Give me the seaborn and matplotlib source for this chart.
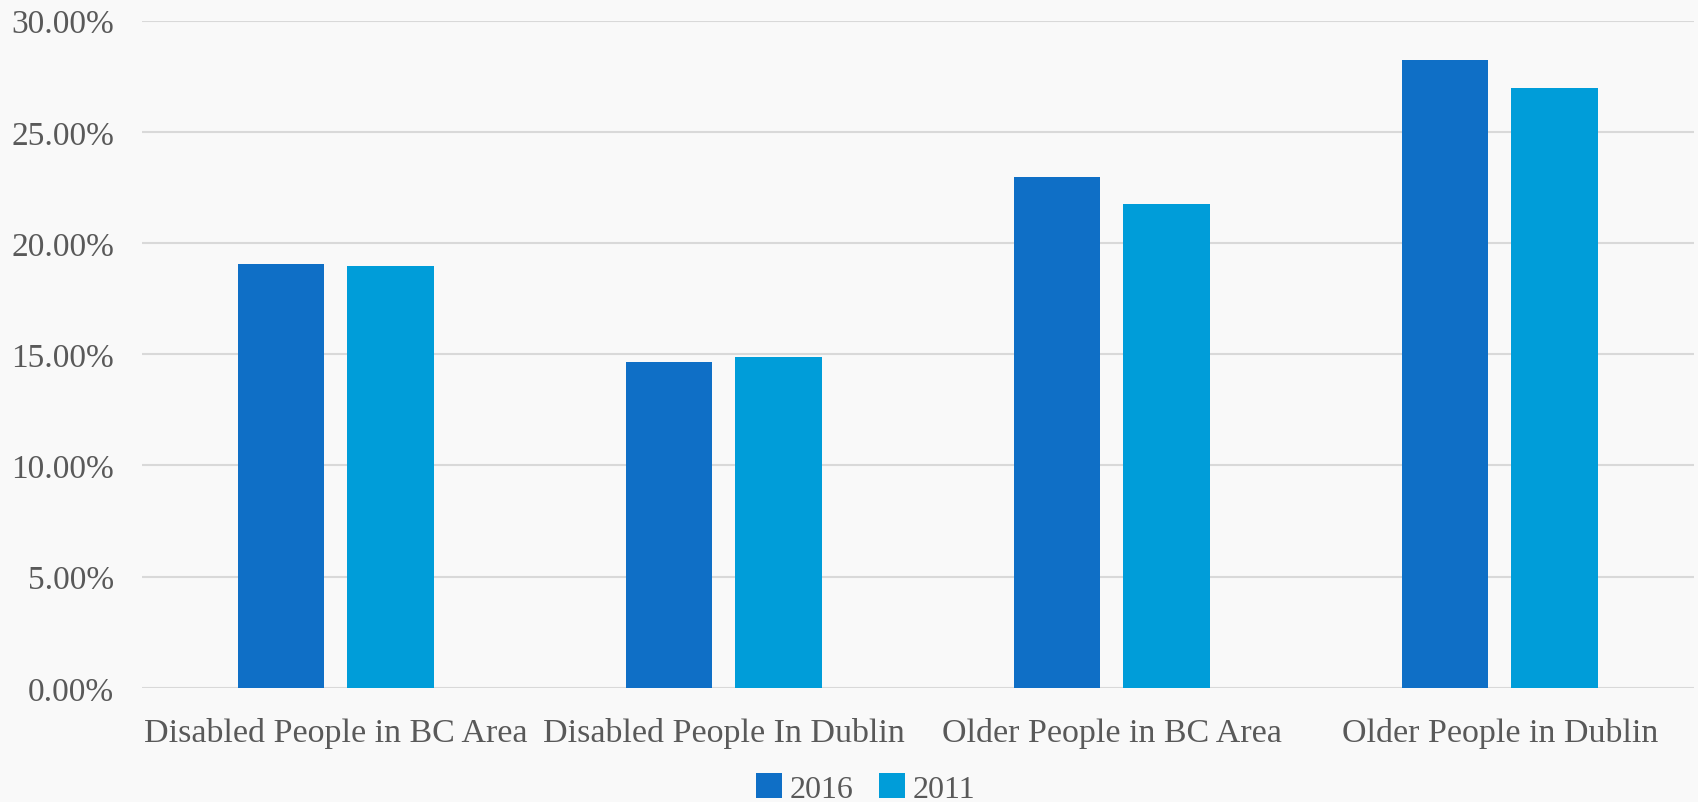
import numpy as np
import pandas as pd
import matplotlib
matplotlib.use("Agg")
import matplotlib.pyplot as plt
import seaborn as sns
from matplotlib.ticker import FuncFormatter

# ── Data ──────────────────────────────────────────────────────────────────
categories = [
    "Disabled People in BC Area",
    "Disabled People In Dublin",
    "Older People in BC Area",
    "Older People in Dublin",
]
years = ["2016", "2011"]
values_2016 = [19.04, 14.65, 22.96, 28.23]
values_2011 = [18.98, 14.87, 21.74, 26.99]
y_ticks = [0, 5, 10, 15, 20, 25, 30]

colors = {"2016": "#0F6FC6", "2011": "#009DD9"}
text_color = "#595959"
bg = "#F9F9F9"

df = pd.DataFrame({
    "category": categories * 2,
    "year": [years[0]] * len(categories) + [years[1]] * len(categories),
    "value": values_2016 + values_2011,
})

# ── Plot ──────────────────────────────────────────────────────────────────
sns.set_theme(style="white")
plt.rcParams["font.family"] = ["Liberation Serif", "DejaVu Serif"]

fig = plt.figure(figsize=(16.98, 8.03), dpi=100, facecolor=bg)
ax = fig.add_axes([0.0836, 0.1422, 0.9140, 0.8308])
ax.set_facecolor(bg)

sns.barplot(
    data=df, x="category", y="value", hue="year",
    hue_order=years, palette=colors, order=categories,
    width=0.564, gap=0.21, ax=ax, legend=True, saturation=1,
    edgecolor="none", linewidth=0,
)

ax.set_ylim(0, 30)
ax.set_xlim(-0.5, len(categories) - 0.5)
ax.set_yticks(y_ticks)
ax.yaxis.set_major_formatter(FuncFormatter(lambda v, _: f"{v:.2f}%"))
ax.yaxis.grid(True, color="#D9D9D9", linewidth=1.5)
ax.set_axisbelow(True)
for s in ax.spines.values():
    s.set_visible(False)

ax.tick_params(axis="y", length=0, pad=20, labelsize=24, labelcolor=text_color)
ax.tick_params(axis="x", length=0, pad=21, labelsize=24.5, labelcolor=text_color)
ax.set_xlabel("")
ax.set_ylabel("")

handles, labels = ax.get_legend_handles_labels()
ax.get_legend().remove()
fig.legend(
    handles, labels, loc="center", bbox_to_anchor=(0.51, 0.017),
    ncol=2, frameon=False, fontsize=23, labelcolor=text_color,
    handlelength=0.8, handleheight=0.8, handletextpad=0.25, columnspacing=0.8,
    borderpad=0.1,
)

fig.savefig("out.png", dpi=100, facecolor=bg)
